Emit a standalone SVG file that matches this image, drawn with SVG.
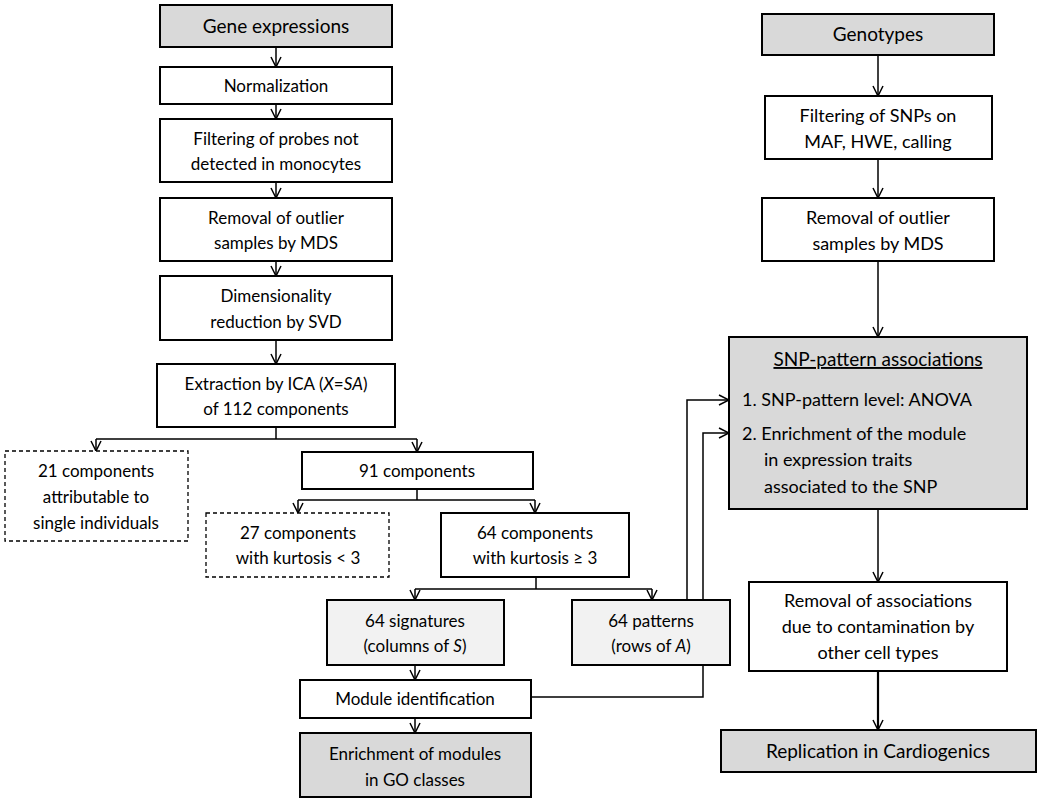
<svg xmlns="http://www.w3.org/2000/svg" width="1042" height="800" viewBox="0 0 1042 800">
<style>
.b{fill:#fff;stroke:#000;stroke-width:2}
.g{fill:#d9d9d9;stroke:#000;stroke-width:2}
.l{fill:#f2f2f2;stroke:#000;stroke-width:2}
.d{fill:#fff;stroke:#000;stroke-width:1.3;stroke-dasharray:4,3}
text{font-family:Lato,"Open Sans",sans-serif;font-size:17px;text-anchor:middle;fill:#000}
.r{font-size:18px}
.c line,.c path{stroke:#000;stroke-width:1.5;fill:none}
</style>
<defs>
<marker id="a" viewBox="0 0 12 12" refX="11" refY="6" markerWidth="12" markerHeight="12" markerUnits="userSpaceOnUse" orient="auto"><path d="M1,1 L11,6 L1,11" fill="none" stroke="#000" stroke-width="1.5"/></marker>
</defs>
<g class="c">
<line x1="276" y1="47" x2="276" y2="67" marker-end="url(#a)"/>
<line x1="276" y1="104" x2="276" y2="119" marker-end="url(#a)"/>
<line x1="276" y1="182" x2="276" y2="198" marker-end="url(#a)"/>
<line x1="276" y1="261" x2="276" y2="276" marker-end="url(#a)"/>
<line x1="276" y1="340" x2="276" y2="364" marker-end="url(#a)"/>
<path d="M276,427 V439 M96,439 H417"/>
<line x1="96" y1="439" x2="96" y2="451" marker-end="url(#a)"/>
<line x1="417" y1="439" x2="417" y2="452" marker-end="url(#a)"/>
<path d="M417,489 V500 M298,500 H535"/>
<line x1="298" y1="500" x2="298" y2="513" marker-end="url(#a)"/>
<line x1="535" y1="500" x2="535" y2="513" marker-end="url(#a)"/>
<path d="M536,577 V589 M415,589 H652"/>
<line x1="415" y1="589" x2="415" y2="600" marker-end="url(#a)"/>
<line x1="652" y1="589" x2="652" y2="600" marker-end="url(#a)"/>
<line x1="415" y1="665" x2="415" y2="680" marker-end="url(#a)"/>
<line x1="415" y1="718" x2="415" y2="733" marker-end="url(#a)"/>
<path d="M687,600 V400 H729" marker-end="url(#a)"/>
<path d="M531,697 H703 V433 H729" marker-end="url(#a)"/>
<line x1="878" y1="55" x2="878" y2="96" marker-end="url(#a)"/>
<line x1="878" y1="159" x2="878" y2="198" marker-end="url(#a)"/>
<line x1="878" y1="261" x2="878" y2="337" marker-end="url(#a)"/>
<line x1="878" y1="509" x2="878" y2="582" marker-end="url(#a)"/>
<line x1="878" y1="671" x2="878" y2="730" marker-end="url(#a)" style="stroke-width:2.2"/>
</g>
<g id="gene"><rect class="g" x="160" y="5" width="232" height="42"/><text x="276" y="33" style="font-size:19px">Gene expressions</text></g>
<g id="norm"><rect class="b" x="160" y="67" width="232" height="37"/><text x="276" y="92">Normalization</text></g>
<g id="filt"><rect class="b" x="160" y="119" width="232" height="63"/><text x="276" y="145">Filtering of probes not</text><text x="276" y="170">detected in monocytes</text></g>
<g id="rem"><rect class="b" x="160" y="198" width="232" height="63"/><text x="276" y="224">Removal of outlier</text><text x="276" y="249">samples by MDS</text></g>
<g id="dim"><rect class="b" x="160" y="276" width="232" height="64"/><text x="276" y="302">Dimensionality</text><text x="276" y="328">reduction by SVD</text></g>
<g id="ica"><rect class="b" x="157" y="364" width="238" height="63"/><text x="276" y="390">Extraction by ICA (<tspan font-style="italic">X</tspan>=<tspan font-style="italic">SA</tspan>)</text><text x="276" y="415">of 112 components</text></g>
<g id="c21"><rect class="d" x="5" y="451" width="183" height="90"/><text x="96" y="477">21 components</text><text x="96" y="503">attributable to</text><text x="96" y="529">single individuals</text></g>
<g id="c91"><rect class="b" x="302" y="452" width="231" height="37"/><text x="417" y="477">91 components</text></g>
<g id="c27"><rect class="d" x="206" y="513" width="183" height="64"/><text x="298" y="539">27 components</text><text x="298" y="564">with kurtosis &lt; 3</text></g>
<g id="c64"><rect class="b" x="441" y="513" width="188" height="64"/><text x="535" y="539">64 components</text><text x="535" y="564">with kurtosis ≥ 3</text></g>
<g id="sig"><rect class="l" x="327" y="600" width="177" height="65"/><text x="415" y="627">64  signatures</text><text x="415" y="652">(columns of <tspan font-style="italic">S</tspan>)</text></g>
<g id="pat"><rect class="l" x="572" y="600" width="158" height="65"/><text x="651" y="627">64 patterns</text><text x="651" y="652">(rows of <tspan font-style="italic">A</tspan>)</text></g>
<g id="mod"><rect class="b" x="300" y="680" width="231" height="38"/><text x="415" y="705">Module identification</text></g>
<g id="enr"><rect class="g" x="300" y="733" width="231" height="64"/><text x="415" y="760">Enrichment of modules</text><text x="415" y="786">in GO classes</text></g>
<g id="geno"><rect class="g" x="762" y="14" width="232" height="41"/><text class="r" x="878" y="41" style="font-size:19px">Genotypes</text></g>
<g id="gfilt"><rect class="b" x="765" y="96" width="227" height="63"/><text class="r" x="878" y="122">Filtering of SNPs on</text><text class="r" x="878" y="148">MAF, HWE, calling</text></g>
<g id="grem"><rect class="b" x="762" y="198" width="232" height="63"/><text class="r" x="878" y="224">Removal of outlier</text><text class="r" x="878" y="250">samples by MDS</text></g>
<g id="snp"><rect class="g" x="729" y="337" width="298" height="172"/>
<text class="r" x="878" y="366" style="font-size:19px;text-decoration:underline">SNP-pattern associations</text>
<text class="r" x="742" y="406" style="text-anchor:start">1.  SNP-pattern level: ANOVA</text>
<text class="r" x="742" y="440" style="text-anchor:start">2.  Enrichment of the module</text>
<text class="r" x="764" y="466" style="text-anchor:start">in expression traits</text>
<text class="r" x="764" y="493" style="text-anchor:start">associated to the SNP</text></g>
<g id="cont"><rect class="b" x="749" y="582" width="258" height="89"/><text class="r" x="878" y="607">Removal of associations</text><text class="r" x="878" y="633">due to contamination by</text><text class="r" x="878" y="659">other cell types</text></g>
<g id="rep"><rect class="g" x="721" y="730" width="315" height="42"/><text class="r" x="878" y="758" style="font-size:19px">Replication in Cardiogenics</text></g>
</svg>
